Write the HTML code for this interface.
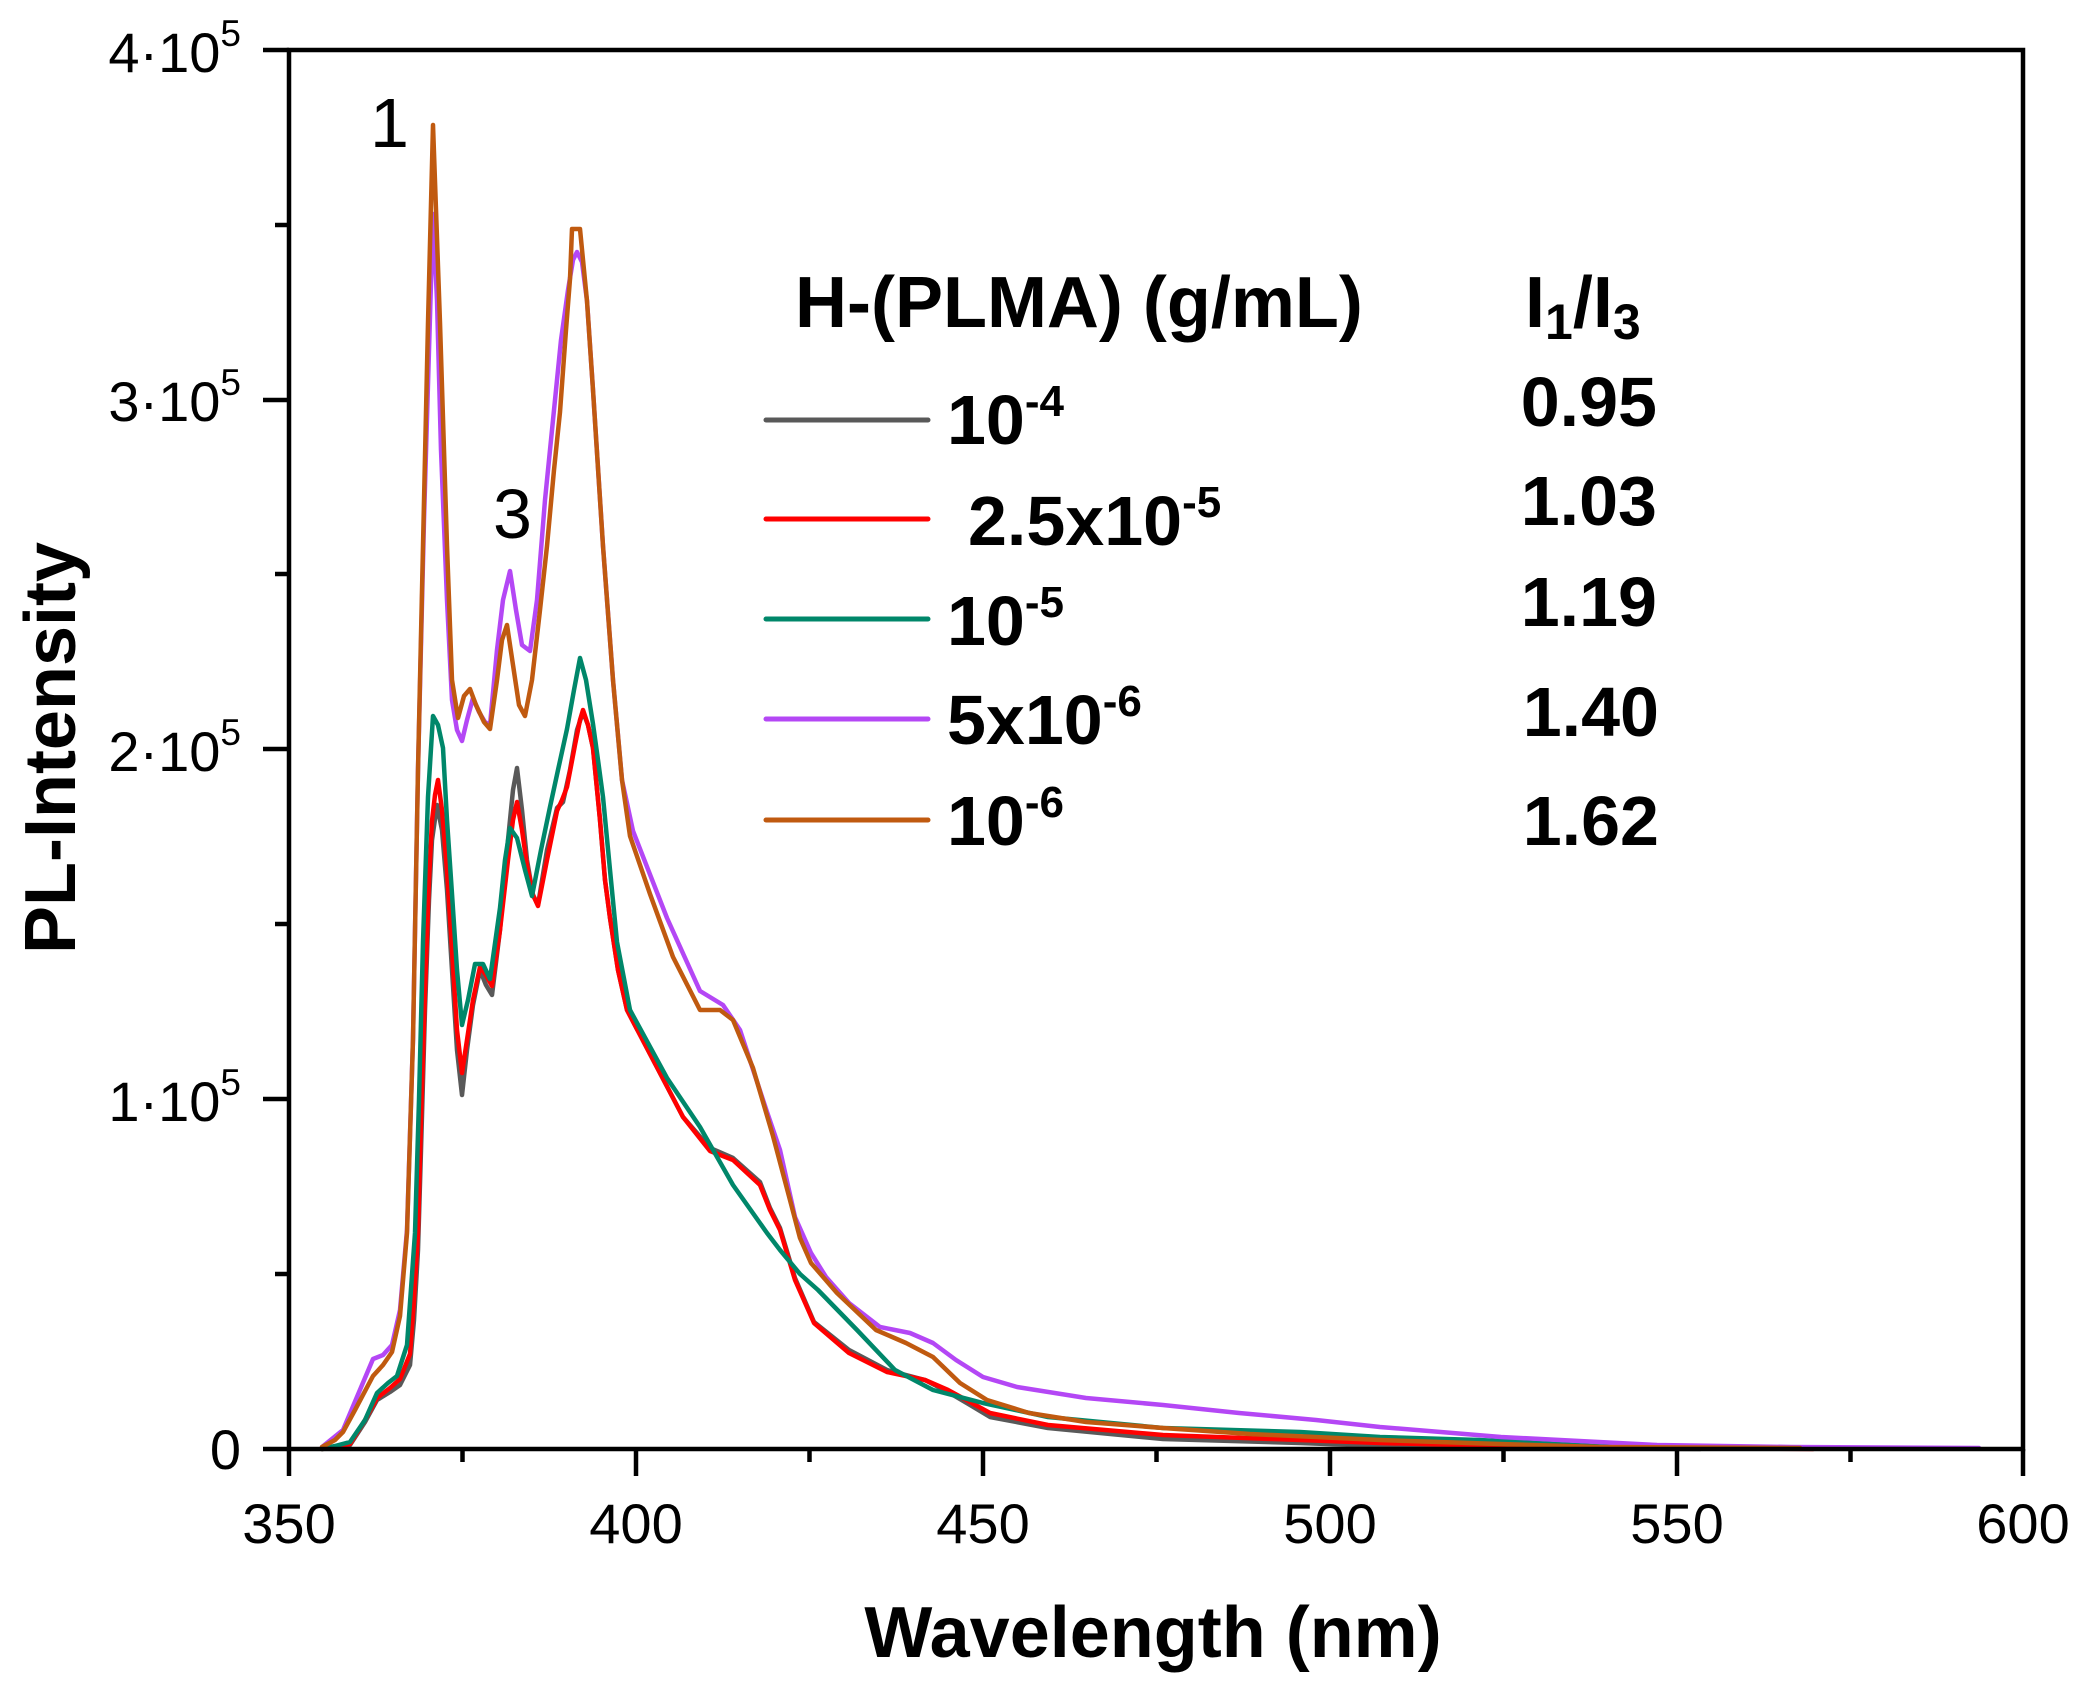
<!DOCTYPE html>
<html>
<head>
<meta charset="utf-8">
<style>
html,body{margin:0;padding:0;background:#fff;overflow:hidden;}
svg{display:block;}
text{font-family:"Liberation Sans",Arial,sans-serif;fill:#000;}
.tick{font-size:56px;}
.b{font-weight:bold;}
</style>
</head>
<body>
<svg width="2085" height="1689" viewBox="0 0 2085 1689" xmlns="http://www.w3.org/2000/svg">
<rect x="0" y="0" width="2085" height="1689" fill="#fff"/>

<!-- series -->
<g fill="none" stroke-width="4.5" stroke-linejoin="round" stroke-linecap="round">
<!-- gray 10^-4 -->
<polyline stroke="#595959" points="322,1449 350,1445 365,1422 377,1400 390,1392 400,1385 410,1365 414,1320 418,1250 421,1150 425,1010 429,900 432,840 437,805 442,830 447,890 452,970 457,1050 462,1095 467,1050 473,1005 480,970 486,985 492,995 500,930 508,840 513,790 517,768 522,810 527,860 533,895 538,905 547,850 557,808 563,802 570,770 577,730 583,712 588,725 593,748 600,820 605,880 610,918 618,970 627,1010 650,1054 683,1117 710,1148 733,1158 760,1182 770,1208 780,1228 795,1278 814,1322 849,1350 887,1370 925,1380 948,1392 970,1405 990,1417 1048,1428 1163,1439 1300,1443 1380,1446 1500,1448 1700,1449"/>
<!-- red 2.5x10^-5 -->
<polyline stroke="#ff0000" points="322,1449 350,1444 365,1420 377,1398 390,1388 400,1379 410,1354 414,1300 418,1233 421,1120 425,991 429,880 432,821 435,795 438,780 442,810 447,870 452,950 457,1030 462,1073 467,1040 473,1000 480,967 486,975 492,986 500,930 508,860 513,820 517,802 522,830 527,865 533,895 538,906 547,860 557,811 562,800 567,787 575,745 580,720 583,710 588,725 593,748 600,820 605,880 610,918 618,970 627,1010 650,1054 683,1117 710,1151 733,1160 760,1185 770,1210 780,1230 795,1280 814,1323 849,1353 887,1372 925,1380 948,1390 970,1402 990,1413 1048,1425 1163,1435 1300,1440 1380,1443 1500,1446 1700,1448 1813,1449"/>
<!-- green 10^-5 -->
<polyline stroke="#00876a" points="322,1449 335,1446 350,1442 365,1420 377,1393 388,1383 397,1376 407,1345 415,1233 419,1100 423,942 428,797 433,716 438,725 443,748 447,820 452,894 457,970 462,1025 468,1000 475,964 483,964 490,979 500,908 505,860 510,828 517,838 525,870 532,896 541,850 550,807 558,770 567,729 574,690 580,658 586,680 593,724 598,760 603,797 610,870 617,942 630,1010 667,1078 700,1127 733,1185 767,1233 780,1250 800,1274 818,1290 857,1330 895,1370 933,1390 983,1403 1048,1417 1163,1428 1300,1432 1380,1437 1479,1440 1612,1447 1813,1448"/>
<!-- purple 5x10^-6 -->
<polyline stroke="#b447f5" points="322,1447 343,1430 373,1359 383,1355 392,1345 400,1310 407,1230 413,1039 418,770 424,520 429,350 433,214 437,300 441,450 447,600 452,700 457,730 462,741 467,720 473,698 479,712 485,722 490,725 497,650 503,600 510,571 516,610 522,645 530,651 537,600 545,500 553,420 561,340 568,290 573,260 577,252 582,262 587,301 593,390 603,546 613,680 622,780 633,831 667,918 700,991 723,1005 740,1030 767,1112 780,1150 795,1217 811,1253 826,1277 849,1303 880,1327 910,1333 933,1343 956,1360 983,1377 1017,1387 1086,1398 1163,1405 1239,1413 1316,1420 1380,1427 1501,1437 1657,1445 1791,1447 1979,1448"/>
<!-- orange 10^-6 -->
<polyline stroke="#c05a10" points="322,1447 335,1440 343,1432 355,1410 373,1376 383,1365 392,1352 400,1316 407,1233 413,1039 418,770 423,546 428,323 433,125 440,323 447,546 452,680 458,718 464,696 470,689 476,705 484,722 490,729 497,680 502,640 507,625 513,665 519,705 525,716 532,680 540,610 547,546 554,470 560,412 566,330 570,279 572,229 580,229 587,301 593,390 603,546 613,680 622,780 630,836 650,894 673,957 700,1010 720,1010 733,1020 753,1068 773,1136 790,1200 800,1238 811,1263 837,1293 876,1330 906,1343 933,1357 960,1383 987,1400 1029,1413 1086,1422 1163,1428 1250,1434 1380,1440 1500,1444 1600,1447 1800,1448"/>
</g>

<!-- axes box -->
<g stroke="#000" stroke-width="4.5" fill="none">
<rect x="289" y="50" width="1734" height="1399"/>
<!-- x major ticks -->
<line x1="289" y1="1449" x2="289" y2="1476"/>
<line x1="636" y1="1449" x2="636" y2="1476"/>
<line x1="983" y1="1449" x2="983" y2="1476"/>
<line x1="1330" y1="1449" x2="1330" y2="1476"/>
<line x1="1677" y1="1449" x2="1677" y2="1476"/>
<line x1="2023" y1="1449" x2="2023" y2="1476"/>
<!-- x minor ticks -->
<line x1="462.5" y1="1449" x2="462.5" y2="1462"/>
<line x1="809.5" y1="1449" x2="809.5" y2="1462"/>
<line x1="1156.5" y1="1449" x2="1156.5" y2="1462"/>
<line x1="1503.5" y1="1449" x2="1503.5" y2="1462"/>
<line x1="1850.5" y1="1449" x2="1850.5" y2="1462"/>
<!-- y major ticks -->
<line x1="263" y1="1449" x2="289" y2="1449"/>
<line x1="263" y1="1099" x2="289" y2="1099"/>
<line x1="263" y1="749" x2="289" y2="749"/>
<line x1="263" y1="400" x2="289" y2="400"/>
<line x1="263" y1="50" x2="289" y2="50"/>
<!-- y minor ticks -->
<line x1="275" y1="1274" x2="289" y2="1274"/>
<line x1="275" y1="924" x2="289" y2="924"/>
<line x1="275" y1="574" x2="289" y2="574"/>
<line x1="275" y1="225" x2="289" y2="225"/>
</g>

<!-- x tick labels -->
<g class="tick" text-anchor="middle">
<text x="289" y="1543">350</text>
<text x="636" y="1543">400</text>
<text x="983" y="1543">450</text>
<text x="1330" y="1543">500</text>
<text x="1677" y="1543">550</text>
<text x="2023" y="1543">600</text>
</g>

<!-- y tick labels -->
<g class="tick" text-anchor="end">
<text x="241" y="1469">0</text>
<text x="241" y="1121">1·10<tspan dy="-26" font-size="37">5</tspan></text>
<text x="241" y="771">2·10<tspan dy="-26" font-size="37">5</tspan></text>
<text x="241" y="421">3·10<tspan dy="-26" font-size="37">5</tspan></text>
<text x="241" y="72">4·10<tspan dy="-26" font-size="37">5</tspan></text>
</g>

<!-- axis titles -->
<text class="b" x="1153" y="1657" font-size="72" text-anchor="middle">Wavelength (nm)</text>
<text class="b" font-size="72" text-anchor="middle" transform="translate(75,748) rotate(-90)">PL-Intensity</text>

<!-- peak annotations -->
<text x="370" y="147" font-size="70">1</text>
<text x="493" y="538" font-size="70">3</text>

<!-- legend -->
<text class="b" x="795" y="327" font-size="72">H-(PLMA) (g/mL)</text>
<text class="b" x="1525" y="327" font-size="72">I<tspan font-size="50" dy="12">1</tspan><tspan dy="-12">/I</tspan><tspan font-size="50" dy="12">3</tspan></text>

<g stroke-width="5" stroke-linecap="round">
<line x1="766" y1="420" x2="928" y2="420" stroke="#595959"/>
<line x1="766" y1="519" x2="928" y2="519" stroke="#ff0000"/>
<line x1="766" y1="619" x2="928" y2="619" stroke="#00876a"/>
<line x1="766" y1="719" x2="928" y2="719" stroke="#b447f5"/>
<line x1="766" y1="820" x2="928" y2="820" stroke="#c05a10"/>
</g>

<g class="b" font-size="70">
<text x="947" y="444">10<tspan dy="-28" font-size="44">-4</tspan></text>
<text x="968" y="545">2.5x10<tspan dy="-28" font-size="44">-5</tspan></text>
<text x="947" y="645">10<tspan dy="-28" font-size="44">-5</tspan></text>
<text x="947" y="744">5x10<tspan dy="-28" font-size="44">-6</tspan></text>
<text x="947" y="845">10<tspan dy="-28" font-size="44">-6</tspan></text>
</g>

<g class="b" font-size="70" text-anchor="end">
<text x="1657" y="426">0.95</text>
<text x="1657" y="525">1.03</text>
<text x="1657" y="626">1.19</text>
<text x="1659" y="736">1.40</text>
<text x="1659" y="845">1.62</text>
</g>
</svg>
</body>
</html>
